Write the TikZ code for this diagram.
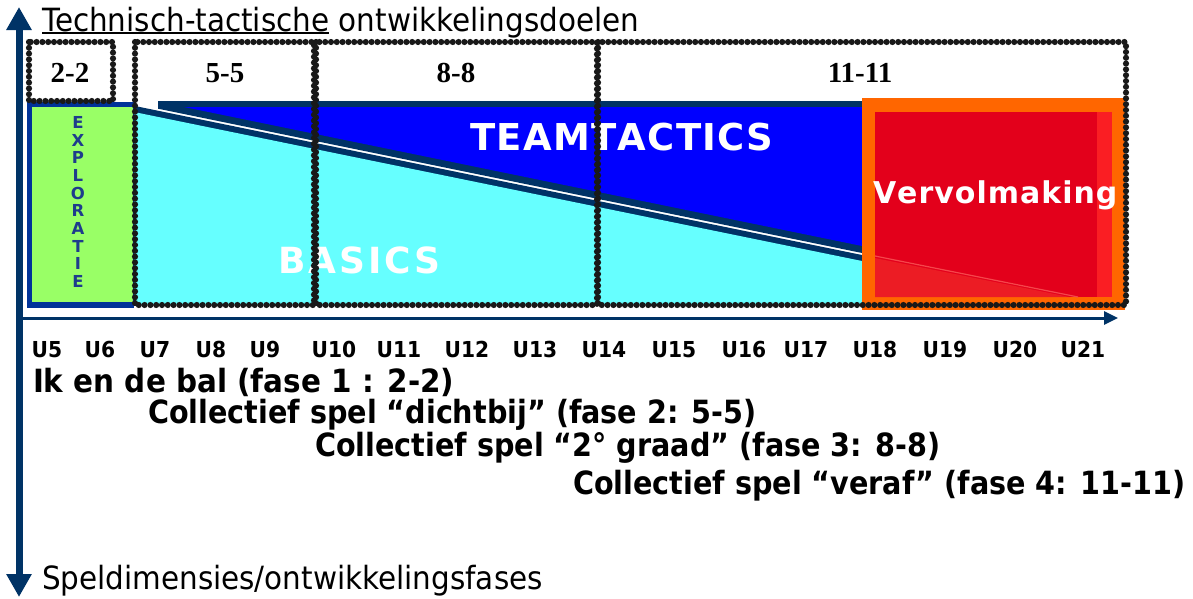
\documentclass[tikz,border=0pt]{standalone}
\usepackage{fontspec}
\usetikzlibrary{arrows.meta,decorations.markings}
\newfontfamily\tah[FakeStretch=0.92]{DejaVu Sans}
\newfontfamily\tahn[FakeStretch=0.895]{DejaVu Sans}
\newfontfamily\dvs{DejaVu Sans}
\newfontfamily\tms{Liberation Serif}
\definecolor{axisnavy}{RGB}{0,51,102}
\definecolor{boxnavy}{RGB}{0,51,153}
\definecolor{teamblue}{RGB}{0,0,255}
\definecolor{basicscyan}{RGB}{102,255,255}
\definecolor{explgreen}{RGB}{153,255,102}
\definecolor{explnavy}{RGB}{30,60,140}
\definecolor{vorange}{RGB}{255,102,0}
\definecolor{vred}{RGB}{227,0,27}
\definecolor{vredlight}{RGB}{236,28,36}
\definecolor{vredstrip}{RGB}{250,30,35}
\definecolor{vredline}{RGB}{245,70,75}
\definecolor{dotgray}{RGB}{25,25,25}
\begin{document}
\begin{tikzpicture}[x=1pt,y=-1pt,
  txt/.style={inner sep=0pt, outer sep=0pt},
  dotbox/.style={decorate, decoration={markings,
      mark=between positions 0 and 1 step 5.8pt with {\fill[dotgray] (0,0) circle[radius=3.1pt];}}},
  ulab/.style={txt, anchor=base, font=\tah\bfseries\fontsize{22}{22}\selectfont},
  phase/.style={txt, anchor=base west, font=\tah\bfseries\fontsize{32}{32}\selectfont},
  phasen/.style={txt, anchor=base west, font=\tahn\bfseries\fontsize{32}{32}\selectfont},
  numlab/.style={txt, anchor=base, font=\tms\bfseries\fontsize{29}{29}\selectfont},
  title/.style={txt, anchor=base west, font=\tah\fontsize{32}{32}\selectfont},
  bigwhite/.style={txt, anchor=base west, text=white},
]
\useasboundingbox (0,0) rectangle (1193,598);

% ---- TEAMTACTICS (blue) and BASICS (cyan) areas
\fill[axisnavy] (158,101) -- (862,101) -- (862,253) -- (158,108.7) -- cycle;
\fill[teamblue] (184,107) -- (862,107) -- (862,246) -- cycle;
\fill[axisnavy] (134,105.8) -- (862,255) -- (862,304) -- (134,304) -- cycle;
\fill[basicscyan] (134,112) -- (862,261) -- (862,304) -- (134,304) -- cycle;

% ---- EXPLORATIE box
\fill[boxnavy] (27,102) rectangle (134,308);
\fill[explgreen] (32,107) rectangle (133,302);

% ---- Vervolmaking box
\fill[vorange] (862,98) rectangle (1125,310);
\fill[vred] (875,112) rectangle (1112,297);
\fill[vredlight] (875,258) -- (1070,297) -- (875,297) -- cycle;
\draw[vredline, line width=1.2pt] (875,256) -- (1078,297);
\fill[vredstrip] (1097,112) rectangle (1112,297);

% ---- big labels
\node[txt, align=center, text=explnavy, font=\dvs\bfseries\fontsize{16.5}{17.7}\selectfont] (expl) at (78,202) {E\\X\\P\\L\\O\\R\\A\\T\\I\\E};
\node[bigwhite, font=\dvs\bfseries\fontsize{37}{37}\selectfont] (team) at (470,150)
  {T\kern1.3pt E\kern1.3pt A\kern1.3pt M\kern1.3pt T\kern1.3pt A\kern1.3pt C\kern1.3pt T\kern1.3pt I\kern1.3pt C\kern1.3pt S};
\node[bigwhite, font=\dvs\bfseries\fontsize{36}{36}\selectfont] (basics) at (278,273)
  {B\kern3pt A\kern3pt S\kern3pt I\kern3pt C\kern3pt S};
\node[bigwhite, font=\dvs\bfseries\fontsize{30}{30}\selectfont] (verv) at (873,203)
  {V\kern1pt e\kern1pt r\kern1pt v\kern1pt o\kern1pt l\kern1pt m\kern1pt a\kern1pt k\kern1pt i\kern1pt n\kern1pt g};

% ---- dotted phase boxes
\path[dotbox] (29,42) rectangle (113,101);
\path[dotbox] (135,42) rectangle (314,305);
\path[dotbox] (316,42) rectangle (597,305);
\path[dotbox] (598,42) rectangle (1126,305);
\node[numlab] (n22) at (70,82) {2-2};
\node[numlab] (n55) at (225,82) {5-5};
\node[numlab] (n88) at (456,82) {8-8};
\node[numlab] (n1111) at (860,82) {11-11};

% ---- axes
\coordinate (ytop) at (19,7);
\coordinate (ybot) at (19,597);
\draw[axisnavy, line width=7pt, {Triangle[width=24pt,length=23pt]}-{Triangle[width=24pt,length=23pt]}] (ytop) -- (ybot);
\coordinate (xl) at (22,318);
\coordinate (xr) at (1118,318);
\draw[axisnavy, line width=3pt, -{Triangle[width=13pt,length=14pt]}] (xl) -- (xr);

% ---- titles
\node[title] (tt) at (42,31) {Technisch-tactische};
\node[title] (od) at ([xshift=9.5pt]tt.base east) {ontwikkelingsdoelen};
\draw[line width=2pt] ([yshift=-2.3pt]tt.base west) -- ([yshift=-2.3pt]tt.base east);
\node[title] (sd) at (42,589) {Speldimensies/ontwikkelingsfases};

% ---- age labels
\foreach \xx/\lab [count=\i] in {47/U5,100/U6,155/U7,211/U8,265/U9,334/U10,399/U11,467/U12,535/U13,604/U14,674/U15,744/U16,806/U17,875/U18,945/U19,1015/U20,1083/U21}
  \node[ulab] (u\i) at (\xx,357) {\lab};

% ---- phase lines
\node[phase] (p1) at (33,392) {Ik en de bal (fase 1 : 2-2)};
\node[phasen] (p2) at (148,423) {Collectief spel “dichtbij” (fase 2: 5-5)};
\node[phasen] (p3) at (315,456) {Collectief spel “2° graad” (fase 3: 8-8)};
\node[phasen] (p4) at (573,494) {Collectief spel “veraf” (fase 4: 11-11)};
\end{tikzpicture}
\end{document}
